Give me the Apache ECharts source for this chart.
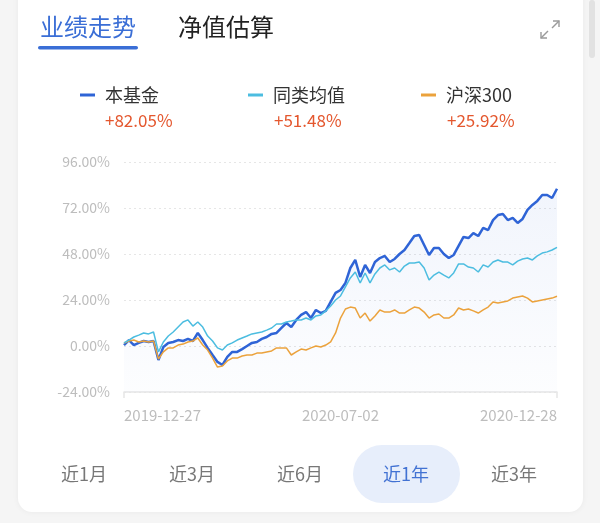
<!DOCTYPE html>
<html>
<head>
<meta charset="utf-8">
<script src="https://cdn.jsdelivr.net/npm/echarts@6/dist/echarts.min.js"></script>
<style>
  html, body { margin: 0; padding: 0; background: #f5f5f5; }
  #chart { width: 600px; height: 523px; }
</style>
</head>
<body>
<div id="chart"></div>
<script>
// ---- data ----
const dates = [
  '2019-12-27','2019-12-31','2020-01-06','2020-01-09','2020-01-14','2020-01-17','2020-01-22','2020-02-04','2020-02-07','2020-02-12',
  '2020-02-17','2020-02-20','2020-02-25','2020-02-28','2020-03-04','2020-03-09','2020-03-12','2020-03-17','2020-03-20','2020-03-25',
  '2020-03-30','2020-04-02','2020-04-08','2020-04-13','2020-04-16','2020-04-21','2020-04-24','2020-04-29','2020-05-07','2020-05-12',
  '2020-05-15','2020-05-20','2020-05-25','2020-05-28','2020-06-02','2020-06-05','2020-06-10','2020-06-15','2020-06-18','2020-06-23',
  '2020-06-24','2020-06-29','2020-06-30','2020-07-01','2020-07-02','2020-07-07','2020-07-10','2020-07-15','2020-07-20','2020-07-23',
  '2020-07-28','2020-07-31','2020-08-05','2020-08-10','2020-08-13','2020-08-18','2020-08-21','2020-08-26','2020-08-31','2020-09-03',
  '2020-09-08','2020-09-11','2020-09-16','2020-09-21','2020-09-24','2020-09-29','2020-10-12','2020-10-15','2020-10-20','2020-10-23',
  '2020-10-28','2020-11-02','2020-11-05','2020-11-10','2020-11-13','2020-11-18','2020-11-23','2020-11-26','2020-12-01','2020-12-04',
  '2020-12-09','2020-12-14','2020-12-17','2020-12-18','2020-12-21','2020-12-22','2020-12-23','2020-12-24','2020-12-28'
];
const fundName = '本基金';
const peerName = '同类均值';
const indexName = '沪深300';
const fundReturn = '+82.05%';
const peerReturn = '+51.48%';
const indexReturn = '+25.92%';

const fund = [
  0.5,3.1,0.5,1.6,2.6,2.1,2.6,-7.3,-0.5,1.6,
  2.1,3.1,2.6,3.7,2.6,6.8,3.1,-1.0,-4.7,-8.3,
  -9.9,-5.7,-3.1,-3.1,-1.6,0.0,1.6,2.1,3.7,4.7,
  6.3,6.8,9.4,12.0,9.9,13.6,16.2,17.7,14.6,18.8,
  17.2,18.3,23.0,27.7,29.2,32.9,40.7,44.9,36.0,42.3,
  38.1,43.8,45.9,47.0,43.8,45.4,48.0,50.1,53.7,57.4,
  57.9,52.7,47.5,51.1,51.1,48.0,45.9,47.5,52.2,56.9,
  56.3,58.9,57.4,61.6,60.5,65.7,68.3,68.9,65.7,66.8,
  64.2,66.3,71.0,73.6,75.7,78.8,78.8,77.2,82.05
];
const peer = [
  1.6,3.1,4.7,5.7,6.8,6.3,7.3,-3.1,2.1,5.2,
  7.3,9.9,12.5,13.6,10.4,12.5,9.9,5.2,2.6,-1.0,
  -2.1,0.5,1.6,3.1,4.2,5.2,6.3,6.8,7.3,8.3,
  9.4,11.5,11.5,12.5,13.0,13.6,13.6,14.6,13.6,15.7,
  16.2,18.3,20.9,24.0,26.1,30.8,35.5,38.6,32.9,38.1,
  32.9,37.6,40.7,42.3,39.7,40.7,38.6,41.7,43.3,43.3,
  43.8,40.7,34.4,37.0,38.6,37.0,35.5,38.1,42.8,42.8,
  41.2,40.7,38.6,42.3,41.2,43.8,44.9,43.8,43.8,42.3,
  44.3,45.4,45.9,44.9,47.0,48.5,49.1,50.1,51.48
];
const csi300 = [
  1.6,2.6,3.1,2.1,2.6,2.1,2.6,-6.8,-3.1,-1.0,
  -1.0,0.5,1.0,2.1,2.6,4.2,0.5,-2.1,-6.3,-11.0,
  -10.4,-7.8,-6.3,-6.3,-5.2,-4.7,-4.7,-3.7,-3.7,-3.1,
  -2.6,-1.0,-1.0,-1.0,-4.7,-3.1,-1.6,-2.1,-1.0,0.0,
  -0.5,0.5,2.1,6.8,14.6,19.3,20.3,19.8,14.6,17.2,
  13.0,15.7,18.8,17.7,17.7,18.8,17.2,17.2,18.8,20.3,
  19.8,17.7,14.6,16.2,16.7,14.6,14.6,16.2,19.8,18.8,
  19.3,18.3,17.2,18.8,20.3,23.0,22.4,23.0,23.5,25.0,
  25.6,26.1,25.0,23.0,23.5,24.0,24.5,25.0,25.92
];
const yTicks = { min: -24, max: 96, interval: 24 };
const tabs = ['业绩走势', '净值估算'];
const ranges = ['近1月', '近3月', '近6月', '近1年', '近3年'];
const activeRange = 3;

// ---- style ----
const C_FUND = '#2f64d6';
const C_PEER = '#4cbde0';
const C_IDX = '#eba23c';
const C_PCT = '#e4572e';
const FONT = '"Noto Sans CJK SC", "Noto Sans", sans-serif';

const last = dates.length - 1;
const mid = Math.round(last / 2);
const showIdx = (i) => i === 0 || i === mid || i === last;

const chart = echarts.init(document.getElementById('chart'), null, { renderer: 'canvas' });

function legendFor(name, color, left) {
  return {
    data: [{ name: name, icon: 'rect', itemStyle: { color: color } }],
    left: left, top: 86, padding: 0,
    itemWidth: 15, itemHeight: 3,
    selectedMode: false,
    textStyle: { fontSize: 18, color: '#333', fontFamily: FONT, padding: [0, 0, 0, 5] }
  };
}

const rangeCenters = [84, 192, 300, 406, 514];

const graphic = [
  { type: 'rect', z: -10, silent: true, shape: { x: 18, y: -20, width: 565, height: 532, r: 14 },
    style: { fill: '#ffffff', shadowBlur: 6, shadowColor: 'rgba(0,0,0,0.05)' } },
  { type: 'rect', z: -9, silent: true, shape: { x: 589, y: 0, width: 6, height: 58, r: 3 }, style: { fill: '#e2e2e2' } },
  // tabs
  { type: 'text', x: 40, y: 27, style: { text: tabs[0], fontSize: 24, fill: '#3a6ed6', fontFamily: FONT, verticalAlign: 'middle' } },
  { type: 'rect', shape: { x: 38, y: 46, width: 100, height: 3.5, r: 2 }, style: { fill: '#3a6ed6' } },
  { type: 'text', x: 178, y: 27, style: { text: tabs[1], fontSize: 24, fill: '#222', fontFamily: FONT, verticalAlign: 'middle' } },
  // expand icon
  { type: 'polyline', shape: { points: [[553, 21], [559, 21], [559, 27]] }, style: { stroke: '#9a9a9a', lineWidth: 1.4, fill: null } },
  { type: 'line', shape: { x1: 559, y1: 21, x2: 552, y2: 28 }, style: { stroke: '#9a9a9a', lineWidth: 1.4 } },
  { type: 'polyline', shape: { points: [[541, 32], [541, 38], [547, 38]] }, style: { stroke: '#9a9a9a', lineWidth: 1.4, fill: null } },
  { type: 'line', shape: { x1: 541, y1: 38, x2: 548, y2: 31 }, style: { stroke: '#9a9a9a', lineWidth: 1.4 } },
  // returns
  { type: 'text', x: 105, y: 121, style: { text: fundReturn, fontSize: 17, fill: C_PCT, fontFamily: FONT, verticalAlign: 'middle' } },
  { type: 'text', x: 274, y: 121, style: { text: peerReturn, fontSize: 17, fill: C_PCT, fontFamily: FONT, verticalAlign: 'middle' } },
  { type: 'text', x: 447, y: 121, style: { text: indexReturn, fontSize: 17, fill: C_PCT, fontFamily: FONT, verticalAlign: 'middle' } },
  // range pill
  { type: 'rect', z: -5, shape: { x: 353, y: 445, width: 107, height: 58, r: 29 }, style: { fill: '#e7eefb' } }
];
ranges.forEach((r, i) => {
  graphic.push({ type: 'text', x: rangeCenters[i], y: 474,
    style: { text: r, fontSize: 18, fill: i === activeRange ? '#4272d3' : '#777', fontFamily: FONT, align: 'center', verticalAlign: 'middle' } });
});

chart.setOption({
  backgroundColor: '#f5f5f5',
  animation: false,
  textStyle: { fontFamily: FONT },
  legend: [
    legendFor(fundName, C_FUND, 80),
    legendFor(peerName, C_PEER, 248),
    legendFor(indexName, C_IDX, 421)
  ],
  grid: { left: 124, right: 43, top: 162, bottom: 131 },
  xAxis: {
    type: 'category',
    data: dates,
    boundaryGap: false,
    axisLine: { onZero: false, lineStyle: { color: '#e6e6e6', width: 1.5 } },
    axisTick: { show: true, interval: (i) => i === 0 || i === last, length: 6, lineStyle: { color: '#e6e6e6', width: 1.5 } },
    axisLabel: {
      interval: (i) => showIdx(i),
      color: '#bdbdbd', fontSize: 15, margin: 16, fontFamily: FONT,
      alignMinLabel: 'left', alignMaxLabel: 'right'
    },
    splitLine: { show: false }
  },
  yAxis: {
    type: 'value',
    min: yTicks.min, max: yTicks.max, interval: yTicks.interval,
    axisLine: { show: false },
    axisTick: { show: false },
    axisLabel: { formatter: (v) => v.toFixed(2) + '%', color: '#bdbdbd', fontSize: 14, margin: 14, fontFamily: FONT },
    splitLine: { lineStyle: { color: '#e6e6e6', type: [2, 3], width: 1 } }
  },
  series: [
    { name: indexName, type: 'line', data: csi300, symbol: 'none', color: C_IDX,
      lineStyle: { width: 1.5, color: C_IDX }, z: 3 },
    { name: peerName, type: 'line', data: peer, symbol: 'none', color: C_PEER,
      lineStyle: { width: 1.5, color: C_PEER }, z: 4 },
    { name: fundName, type: 'line', data: fund, symbol: 'none', color: C_FUND,
      lineStyle: { width: 2.5, color: C_FUND }, z: 2,
      areaStyle: { origin: 'start', color: new echarts.graphic.LinearGradient(0, 0, 0, 1, [
        { offset: 0, color: 'rgba(60,110,215,0.10)' },
        { offset: 1, color: 'rgba(60,110,215,0.02)' }
      ]) } }
  ],
  graphic: graphic
});
</script>
</body>
</html>
